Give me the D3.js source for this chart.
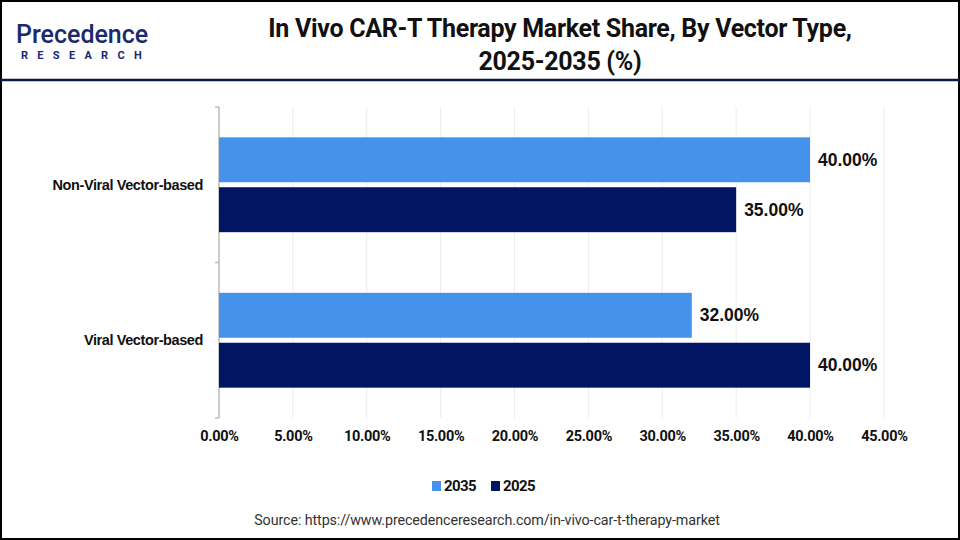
<!DOCTYPE html>
<html>
<head>
<meta charset="utf-8">
<script src="https://cdn.jsdelivr.net/npm/d3@7"></script>
<style>
  body { margin: 0; background: #fff; }
  svg { display: block; }
</style>
</head>
<body>
<div id="chart"></div>
<script>
// bar chart: In Vivo CAR-T Therapy market share by vector type

const categories = ["Non-Viral Vector-based", "Viral Vector-based"];
const years = ["2035", "2025"];
const values2035 = [40, 32];
const values2025 = [35, 40];
const xTicks = [0, 5, 10, 15, 20, 25, 30, 35, 40, 45];
const colors = ["#4592ea", "#001563"];

const width = 960, height = 540,
      margin = ({top: 107, right: 76, bottom: 122, left: 219});

const data = categories.map((c, i) => ({category: c, values: [values2035[i], values2025[i]]}));

let svg = d3.select("#chart")
    .append("svg")
    .attr("width", width)
    .attr("height", height)
    .attr("viewBox", [0, 0, width, height]);

// frame + header
svg.append("rect")
    .attr("x", 1).attr("y", 1)
    .attr("width", width - 2).attr("height", height - 2)
    .attr("fill", "none").attr("stroke", "#000").attr("stroke-width", 2);

svg.append("line")
    .attr("x1", 0).attr("x2", width)
    .attr("y1", 80).attr("y2", 80)
    .attr("stroke", "#0d1440").attr("stroke-width", 2.5);

const title = svg.append("text")
    .attr("text-anchor", "middle")
    .attr("font-family", "Roboto, sans-serif")
    .attr("font-weight", "bold")
    .attr("font-size", 25)
    .attr("letter-spacing", -0.3)
    .attr("fill", "#111");
title.append("tspan").attr("x", 560).attr("y", 37).text("In Vivo CAR-T Therapy Market Share, By Vector Type,");
title.append("tspan").attr("x", 560).attr("y", 70).text("2025-2035 (%)");

// logo
svg.append("text")
    .attr("x", 16).attr("y", 43)
    .attr("font-family", "Roboto, sans-serif")
    .attr("font-weight", 500)
    .attr("font-size", 25)
    .attr("fill", "#1a2a6c")
    .text("Precedence");
svg.append("text")
    .attr("x", 21).attr("y", 59)
    .attr("font-family", "Roboto, sans-serif")
    .attr("font-weight", "bold")
    .attr("font-size", 11)
    .attr("letter-spacing", 9.3)
    .attr("fill", "#1a2a6c")
    .text("RESEARCH");

// scales
let x = d3.scaleLinear()
    .domain([0, 45])
    .range([margin.left, margin.left + 14.775 * 45]);

let y = d3.scaleBand()
    .domain(categories)
    .range([margin.top, height - margin.bottom])
    .paddingInner(0.39)
    .paddingOuter(0.195);

let y1 = d3.scaleBand()
    .domain(years)
    .range([0, y.bandwidth()])
    .paddingInner(0.1);

// gridlines
svg.append("g")
    .selectAll("line")
    .data(xTicks.slice(1))
    .join("line")
    .attr("x1", d => x(d)).attr("x2", d => x(d))
    .attr("y1", margin.top).attr("y2", height - margin.bottom)
    .attr("stroke", "#ececec");

// y axis (ticks on the left, between categories)
const yAxisG = svg.append("g")
    .attr("transform", `translate(${margin.left}, 0)`);
yAxisG.append("line")
    .attr("y1", margin.top).attr("y2", height - margin.bottom)
    .attr("stroke", "#bbb").attr("stroke-width", 1.5);
yAxisG.selectAll(".tk")
    .data([margin.top, (margin.top + height - margin.bottom) / 2, height - margin.bottom])
    .join("line")
    .attr("class", "tk")
    .attr("x1", -4).attr("x2", 0)
    .attr("y1", d => d).attr("y2", d => d)
    .attr("stroke", "#bbb").attr("stroke-width", 1.5);
yAxisG.selectAll(".lbl")
    .data(categories)
    .join("text")
    .attr("class", "lbl")
    .attr("x", -16)
    .attr("y", d => y(d) + y.bandwidth() / 2)
    .attr("dy", "0.35em")
    .attr("text-anchor", "end")
    .attr("font-family", "'Liberation Sans', sans-serif")
    .attr("font-weight", "bold")
    .attr("font-size", 14.5)
    .attr("letter-spacing", -0.4)
    .attr("fill", "#111")
    .text(d => d);

// x axis labels
const xAxis = g => g
    .attr("transform", `translate(0, ${height - margin.bottom})`)
    .call(d3.axisBottom(x).tickValues(xTicks).tickSize(0).tickPadding(13).tickFormat(d => d.toFixed(2) + "%"))
    .call(g => g.select(".domain").remove())
    .call(g => g.selectAll("text")
        .attr("font-family", "Roboto, sans-serif")
        .attr("font-weight", "bold")
        .attr("font-size", 14.5)
        .attr("letter-spacing", -0.3)
        .attr("fill", "#111"));

svg.append("g").call(xAxis);

// bars
let bar = svg.selectAll(".bar")
    .data(data)
    .join("g")
    .attr("class", "bar")
    .attr("transform", d => `translate(0, ${y(d.category)})`);

bar.selectAll("rect")
    .data(d => d.values.map((v, i) => ({year: years[i], value: v, i})))
    .join("rect")
    .attr("x", x(0))
    .attr("y", d => y1(d.year))
    .attr("width", d => x(d.value) - x(0))
    .attr("height", y1.bandwidth())
    .attr("fill", d => colors[d.i]);

bar.selectAll("text")
    .data(d => d.values.map((v, i) => ({year: years[i], value: v})))
    .join("text")
    .attr("x", d => x(d.value) + 8)
    .attr("y", d => y1(d.year) + y1.bandwidth() / 2)
    .attr("dy", "0.35em")
    .attr("font-family", "'Liberation Sans', sans-serif")
    .attr("font-weight", "bold")
    .attr("font-size", 17.5)
    .attr("fill", "#111")
    .text(d => d.value.toFixed(2) + "%");

// legend
const legend = svg.append("g")
    .attr("transform", "translate(432, 486)");
const li = legend.selectAll("g")
    .data(years)
    .join("g")
    .attr("transform", (d, i) => `translate(${i * 59}, 0)`);
li.append("rect")
    .attr("x", 0).attr("y", -5)
    .attr("width", 9).attr("height", 10)
    .attr("fill", (d, i) => colors[i]);
li.append("text")
    .attr("x", 12).attr("dy", "0.36em")
    .attr("font-family", "Roboto, sans-serif")
    .attr("font-weight", "bold")
    .attr("font-size", 15)
    .attr("letter-spacing", -0.6)
    .attr("fill", "#111")
    .text(d => d);

// source
svg.append("text")
    .attr("x", 487).attr("y", 525)
    .attr("text-anchor", "middle")
    .attr("font-family", "Roboto, sans-serif")
    .attr("font-size", 14.3)
    .attr("letter-spacing", -0.1)
    .attr("fill", "#333")
    .text("Source: https://www.precedenceresearch.com/in-vivo-car-t-therapy-market");
</script>
</body>
</html>
